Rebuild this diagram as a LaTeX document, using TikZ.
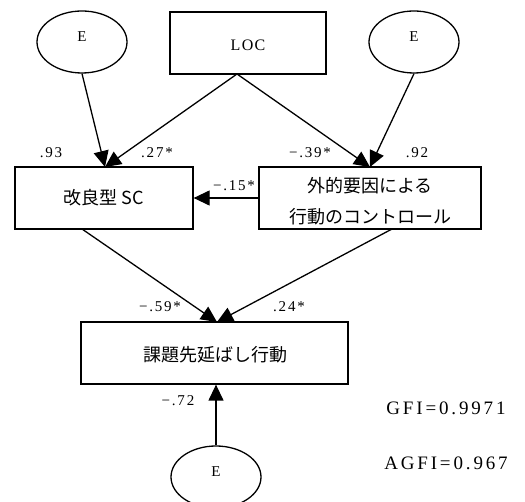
\documentclass[tikz,border=0pt]{standalone}
\usepackage{fontspec}
\setmainfont{Liberation Serif}
\newfontfamily\jpfont{Noto Sans CJK JP}
\newfontfamily\labfont[LetterSpace=12]{Liberation Serif}
\newfontfamily\fitfont[LetterSpace=15]{Liberation Serif}
\newfontfamily\locfont[LetterSpace=8]{Liberation Serif}
\usetikzlibrary{arrows.meta,shapes.geometric}
\begin{document}
\begin{tikzpicture}[x=1pt,y=-1pt,
  lw/.style={line width=1.3pt},
  box/.style={draw,lw,rectangle,minimum height=62pt,inner sep=0pt},
  jp/.style={inner sep=0pt,font=\jpfont\fontsize{18}{31}\selectfont,align=center},
  err/.style={draw,lw,ellipse,minimum width=90pt,minimum height=62pt,inner sep=0pt},
  etext/.style={inner sep=0pt,font=\fontsize{15}{17}\selectfont},
  arr/.style={lw,-{Triangle[length=16pt,width=15pt]}},
  lab/.style={inner sep=0pt,font=\labfont\fontsize{15}{17}\selectfont},
  fitlab/.style={inner sep=0pt,font=\fitfont\fontsize{19}{22}\selectfont}]
\useasboundingbox (0,0) rectangle (525,502);
\clip (0,0) rectangle (525,502);
% shapes
\node[err] (eL) at (82,42) {};
\node[err] (eR) at (414,42) {};
\node[err] (eB) at (216,477) {};
\node[box,minimum width=156pt] (LOC) at (248,43) {};
\node[box,minimum width=178pt] (L) at (104,198) {};
\node[box,minimum width=222pt] (R) at (370,198) {};
\node[box,minimum width=267pt] (B) at (214.5,353) {};
% texts
\node[etext] (eLt) at (82,37) {E};
\node[etext] (eRt) at (414,37) {E};
\node[etext] (eBt) at (216,472) {E};
\node[inner sep=0pt,font=\locfont\fontsize{16}{18}\selectfont] (LOCt) at (248,45) {LOC};
\node[jp] (Lt) at (104,198) {改良型 SC};
\node[jp] (Rt) at (370,201.5) {外的要因による\\行動のコントロール};
\node[jp] (Bt) at (215,355) {課題先延ばし行動};
% connector points
\coordinate (LOCs) at (237,74);
\coordinate (Lin) at (105,167);
\coordinate (Rin) at (370,167);
\coordinate (Lout) at (82,229);
\coordinate (Rout) at (392,229);
\coordinate (Bin) at (217,322);
% connectors
\draw[arr] (eL.south) -- (Lin);
\draw[arr] (LOCs) -- (Lin);
\draw[arr] (LOCs) -- (Rin);
\draw[arr] (eR.south) -- (Rin);
\draw[arr] (R.west) -- (L.east);
\draw[arr] (Lout) -- (Bin);
\draw[arr] (Rout) -- (Bin);
\draw[arr] (eB.north) -- (eB.north |- B.south);
% labels
\node[lab] (l93) at (51,153) {.93};
\node[lab] (l27) at (157,153) {.27*};
\node[lab] (l39) at (310,153) {−.39*};
\node[lab] (l92) at (417,153) {.92};
\node[lab] (l15) at (234,186) {−.15*};
\node[lab] (l59) at (160,307) {−.59*};
\node[lab] (l24) at (289,307) {.24*};
\node[lab] (l72) at (178,401) {−.72};
\node[fitlab] (gfi) at (446,408) {GFI=0.9971};
\node[fitlab] (agfi) at (446,463) {AGFI=0.967};
\end{tikzpicture}
\end{document}
